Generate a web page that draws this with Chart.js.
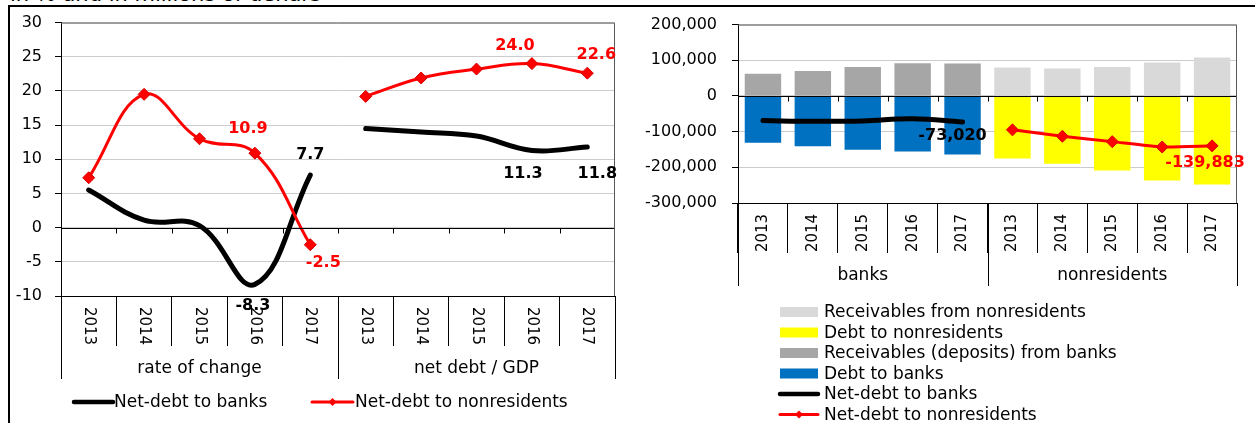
<!DOCTYPE html>
<html>
<head>
<meta charset="utf-8">
<script src="https://cdn.jsdelivr.net/npm/chart.js@4/dist/chart.umd.min.js"></script>
<style>
  html, body { margin: 0; padding: 0; background: #fff; }
  body { width: 1255px; height: 423px; position: relative; overflow: hidden; font-family: 'DejaVu Sans', sans-serif; }
  #title { position: absolute; left: 10px; top: -18px; font-size: 21px; white-space: nowrap; color: #000; }
  .rule { position: absolute; background: #000; }
  canvas { position: absolute; top: 0; }
  #leftChart { left: 0; }
  #rightChart { left: 625px; }
</style>
</head>
<body>
<div id="title">in % and in millions of denars</div>
<div class="rule" style="left:8px; top:5px; width:1247px; height:2px;"></div>
<div class="rule" style="left:8px; top:5px; width:2px; height:418px;"></div>
<canvas id="leftChart" width="625" height="423"></canvas>
<canvas id="rightChart" width="630" height="423"></canvas>
<script>
'use strict';

// ── data: left chart (in %) ──
const years       = ['2013', '2014', '2015', '2016', '2017'];
const leftGroups  = ['rate of change', 'net debt / GDP'];
const banksRate   = [5.5, 1.1, 0.3, -8.3, 7.7];
const nonresRate  = [7.3, 19.5, 13.0, 10.9, -2.5];
const banksGdp    = [14.5, 14.0, 13.4, 11.3, 11.8];
const nonresGdp   = [19.2, 21.9, 23.2, 24.0, 22.6];
const leftTicks   = { min: -10, max: 30, step: 5 };

// ── data: right chart (millions of denars) ──
const rightGroups = ['banks', 'nonresidents'];
const recBanks    = [62000, 70000, 81000, 92000, 91000];
const debtBanks   = [-131000, -141000, -151000, -156000, -164020];
const netBanks    = [-69000, -71000, -70000, -64000, -73020];
const recNonres   = [80000, 77000, 81000, 94000, 108000];
const debtNonres  = [-175000, -190000, -209000, -237000, -247883];
const netNonres   = [-95000, -113000, -128000, -143000, -139883];
const rightTicks  = { min: -300000, max: 200000, step: 100000 };

Chart.defaults.font.family = "'DejaVu Sans', Verdana, sans-serif";
Chart.defaults.font.size = 16;
Chart.defaults.color = '#000';
Chart.defaults.animation = false;

const RED = '#ff0000', BLACK = '#000000';
const blank  = years.map(() => null);
const first  = arr => arr.concat(blank);
const second = arr => blank.concat(arr);
const labels = years.concat(years);

function lineDs(label, data, color, width, marker, tension) {
    return {
        type: 'line', label, data,
        borderColor: color, backgroundColor: color, borderWidth: width,
        borderCapStyle: 'round', borderJoinStyle: 'round',
        tension, spanGaps: false,
        pointStyle: 'rectRot', pointRadius: marker ? 6 : 0, pointHoverRadius: 0,
        pointBackgroundColor: color, pointBorderColor: '#d80000', pointBorderWidth: 1,
        order: 0
    };
}

// Excel-like decorations: zero axis, two-level category axis, value labels, legend
function decor(cfg) {
    return {
        id: 'decor',
        afterDatasetsDraw(chart) {
            const { ctx, chartArea: a, scales: { x, y } } = chart;
            const y0 = Math.round(y.getPixelForValue(0)) + 0.5;
            ctx.save();
            ctx.strokeStyle = '#000'; ctx.lineWidth = 1;
            ctx.beginPath();
            ctx.moveTo(a.left, y0); ctx.lineTo(a.right, y0);
            for (let i = 1; i < chart.data.labels.length; i++) {
                const bx = Math.round((x.getPixelForValue(i - 1) + x.getPixelForValue(i)) / 2) + 0.5;
                ctx.moveTo(bx, y0); ctx.lineTo(bx, y0 + 5);
            }
            ctx.stroke();
            ctx.restore();
        },
        afterDraw(chart) {
            const { ctx, chartArea: a, scales: { x } } = chart;
            ctx.save();
            // plot frame (top + right)
            ctx.strokeStyle = '#595959'; ctx.lineWidth = 1;
            ctx.beginPath();
            ctx.moveTo(a.left, a.top + 0.5); ctx.lineTo(a.right - 0.5, a.top + 0.5); ctx.lineTo(a.right - 0.5, a.bottom);
            ctx.stroke();

            // year labels, rotated
            ctx.fillStyle = '#000';
            ctx.font = "15px 'DejaVu Sans'";
            ctx.textAlign = 'center'; ctx.textBaseline = 'middle';
            chart.data.labels.forEach((lab, i) => {
                ctx.save();
                ctx.translate(x.getPixelForValue(i), a.bottom + 30);
                ctx.rotate(cfg.rot * Math.PI / 2);
                ctx.fillText(lab, 0, 0);
                ctx.restore();
            });

            // group dividers + group names
            const n = chart.data.labels.length, g = cfg.groups.length, per = n / g;
            const edge = k => k === 0 ? x.left : k === g ? x.right
                : (x.getPixelForValue(k * per - 1) + x.getPixelForValue(k * per)) / 2;
            ctx.strokeStyle = '#000'; ctx.lineWidth = 1;
            ctx.beginPath();
            for (let k = 0; k <= g; k++) {
                const ex = Math.round(edge(k)) + 0.5;
                ctx.moveTo(ex, a.bottom); ctx.lineTo(ex, a.bottom + 83);
            }
            ctx.stroke();
            ctx.font = "17px 'DejaVu Sans'";
            cfg.groups.forEach((name, k) => ctx.fillText(name, (edge(k) + edge(k + 1)) / 2, a.bottom + 73));

            // value labels
            ctx.font = "bold 16px 'DejaVu Sans'";
            cfg.valueLabels.forEach(l => {
                const ds = chart.data.datasets[l.ds];
                const pt = chart.getDatasetMeta(l.ds).data[l.i];
                ctx.fillStyle = ds.borderColor;
                ctx.fillText(cfg.fmt(ds.data[l.i]), pt.x + l.dx, pt.y + l.dy);
            });

            // legend
            ctx.font = "17px 'DejaVu Sans'";
            ctx.textAlign = 'left';
            cfg.legend.forEach(it => {
                const ds = chart.data.datasets[it.ds];
                if (ds.type === 'line') {
                    ctx.strokeStyle = ds.borderColor;
                    ctx.lineWidth = ds.borderWidth > 4 ? 4.5 : 3;
                    ctx.lineCap = 'round';
                    ctx.beginPath(); ctx.moveTo(it.x, it.y); ctx.lineTo(it.x + it.w, it.y); ctx.stroke();
                    if (ds.pointRadius) {
                        const cx = it.x + it.w / 2, r = 4;
                        ctx.fillStyle = ds.borderColor;
                        ctx.beginPath();
                        ctx.moveTo(cx, it.y - r); ctx.lineTo(cx + r, it.y); ctx.lineTo(cx, it.y + r); ctx.lineTo(cx - r, it.y);
                        ctx.closePath(); ctx.fill();
                    }
                } else {
                    ctx.fillStyle = ds.backgroundColor;
                    ctx.fillRect(it.x, it.y - 5, it.w, 10);
                }
                ctx.fillStyle = '#000';
                ctx.fillText(ds.label, it.tx, it.y + 1);
            });
            ctx.restore();
        }
    };
}

// ── left chart ──
new Chart(document.getElementById('leftChart'), {
    type: 'line',
    data: {
        labels,
        datasets: [
            lineDs('Net-debt to nonresidents', first(nonresRate), RED, 3, true, 0.4),
            lineDs('Net-debt to nonresidents', second(nonresGdp), RED, 3, true, 0.4),
            lineDs('Net-debt to banks', first(banksRate), BLACK, 5, false, 0.4),
            lineDs('Net-debt to banks', second(banksGdp), BLACK, 5, false, 0.4)
        ]
    },
    options: {
        responsive: false, devicePixelRatio: 1, events: [],
        layout: { padding: { top: 19, right: 10, left: 0, bottom: 0 } },
        plugins: { legend: { display: false }, tooltip: { enabled: false } },
        scales: {
            x: {
                offset: true,
                grid: { offset: true, drawOnChartArea: false, color: '#000', tickColor: '#000', tickLength: 50 },
                border: { color: '#000' },
                ticks: { display: false },
                afterFit: s => { s.height = 127; }
            },
            y: {
                min: leftTicks.min, max: leftTicks.max,
                ticks: { stepSize: leftTicks.step, padding: 13 },
                grid: { color: '#cccccc', tickColor: '#000', tickLength: 6 },
                border: { color: '#000' },
                afterFit: s => { s.width = 61; }
            }
        }
    },
    plugins: [decor({
        rot: 1,
        groups: leftGroups,
        fmt: v => v.toFixed(1),
        valueLabels: [
            { ds: 0, i: 3, dx: -7, dy: -24 }, { ds: 0, i: 4, dx: 13, dy: 18 },
            { ds: 1, i: 8, dx: -17, dy: -18 }, { ds: 1, i: 9, dx: 9, dy: -18 },
            { ds: 2, i: 3, dx: -2, dy: 21 }, { ds: 2, i: 4, dx: 0, dy: -20 },
            { ds: 3, i: 8, dx: -9, dy: 23 }, { ds: 3, i: 9, dx: 10, dy: 27 }
        ],
        legend: [
            { ds: 2, x: 74, y: 402, w: 39, tx: 114 },
            { ds: 0, x: 312, y: 402, w: 41, tx: 355 }
        ]
    })]
});

// ── right chart ──
new Chart(document.getElementById('rightChart'), {
    type: 'bar',
    data: {
        labels,
        datasets: [
            lineDs('Net-debt to nonresidents', second(netNonres), RED, 3, true, 0.2),
            lineDs('Net-debt to banks', first(netBanks), BLACK, 5, false, 0.4),
            { label: 'Receivables from nonresidents', data: second(recNonres), backgroundColor: '#d9d9d9', order: 1 },
            { label: 'Debt to nonresidents', data: second(debtNonres), backgroundColor: '#ffff00', order: 1 },
            { label: 'Receivables (deposits) from banks', data: first(recBanks), backgroundColor: '#a6a6a6', order: 1 },
            { label: 'Debt to banks', data: first(debtBanks), backgroundColor: '#0070c0', order: 1 }
        ]
    },
    options: {
        responsive: false, devicePixelRatio: 1, events: [],
        barPercentage: 0.73, categoryPercentage: 1,
        layout: { padding: { top: 23, right: 18, left: 0, bottom: 0 } },
        plugins: { legend: { display: false }, tooltip: { enabled: false } },
        scales: {
            x: {
                stacked: true,
                grid: { offset: true, drawOnChartArea: false, color: '#000', tickColor: '#000', tickLength: 50 },
                border: { color: '#000' },
                ticks: { display: false },
                afterFit: s => { s.height = 220; }
            },
            y: {
                stacked: true,
                min: rightTicks.min, max: rightTicks.max,
                ticks: { stepSize: rightTicks.step, padding: 15, callback: v => v.toLocaleString('en-US') },
                grid: { color: '#cccccc', tickColor: '#000', tickLength: 6 },
                border: { color: '#000' },
                afterFit: s => { s.width = 113; }
            }
        }
    },
    plugins: [decor({
        rot: -1,
        groups: rightGroups,
        fmt: v => Math.round(v).toLocaleString('en-US'),
        valueLabels: [
            { ds: 1, i: 4, dx: -10, dy: 14 },
            { ds: 0, i: 9, dx: -7, dy: 17 }
        ],
        legend: [
            { ds: 2, x: 155, y: 312, w: 38, tx: 199 },
            { ds: 3, x: 155, y: 332.5, w: 38, tx: 199 },
            { ds: 4, x: 155, y: 353, w: 38, tx: 199 },
            { ds: 5, x: 155, y: 373.5, w: 38, tx: 199 },
            { ds: 1, x: 155, y: 394, w: 38, tx: 199 },
            { ds: 0, x: 155, y: 414.5, w: 38, tx: 199 }
        ]
    })]
});
</script>
</body>
</html>
